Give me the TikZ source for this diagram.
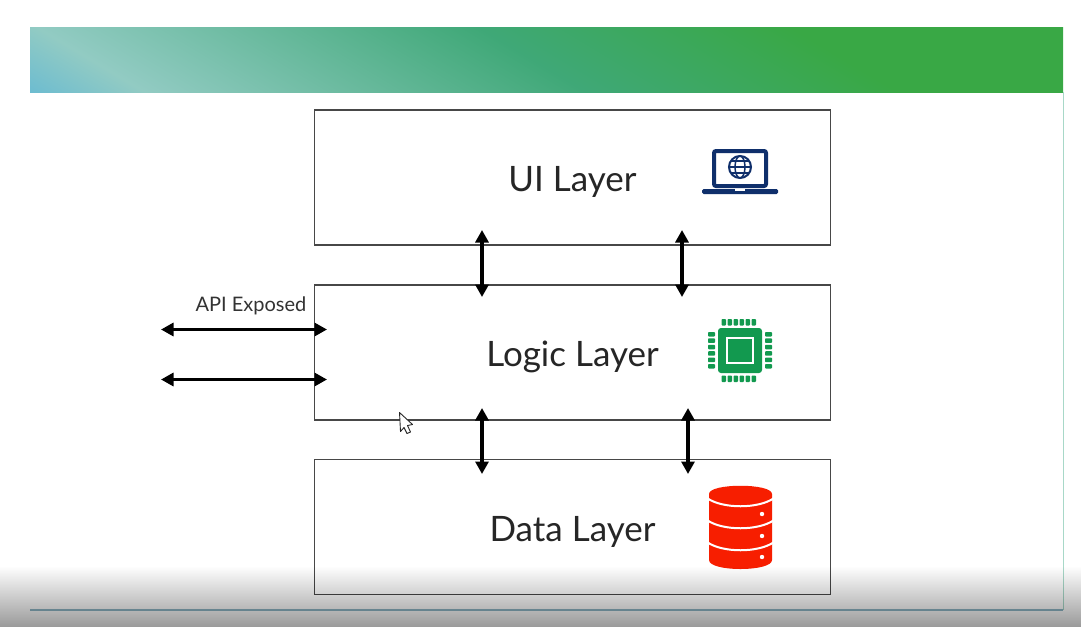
\documentclass[tikz,border=0pt]{standalone}
\usepackage{fontspec}
\setmainfont{Lato}
\usetikzlibrary{arrows.meta,fadings}
\definecolor{laptopblue}{HTML}{0F2F6B}
\definecolor{chipgreen}{HTML}{12994F}
\definecolor{dbred}{HTML}{F71E00}
\definecolor{barA}{HTML}{6DBCD0}
\definecolor{barB}{HTML}{92CBC3}
\definecolor{barC}{HTML}{3FA877}
\definecolor{barD}{HTML}{39A845}
\definecolor{footline}{HTML}{90B8C8}
\definecolor{sideline}{HTML}{A8D8C8}
\pgfdeclarehorizontalshading{barshade}{100bp}{color(0bp)=(barA); color(37.75bp)=(barA); color(40.2bp)=(barB); color(49.7bp)=(barC); color(56.4bp)=(barD); color(100bp)=(barD)}
\tikzfading[name=bottomfade, top color=transparent!100, middle color=transparent!88, bottom color=transparent!60]
\tikzset{
  layerbox/.style={draw=black!72, line width=1.2pt, minimum width=516pt, minimum height=135pt},
  layertext/.style={yshift=-4.5pt, font=\fontsize{35}{42}\selectfont, text=black!85},
  bothways/.style={draw=black, line width=3.8pt, {Triangle[width=13pt,length=12.5pt]}-{Triangle[width=13pt,length=12.5pt]}},
}
\begin{document}
\begin{tikzpicture}[x=1pt,y=-1pt]
\useasboundingbox (0,0) rectangle (1083,627);
\fill[white] (0,0) rectangle (1083,627);

\begin{scope}
\clip (30,27) rectangle (1063,92);
\path[shading=barshade, shading angle=59] (-53.5,-540.5) rectangle (1146.5,659.5);
\end{scope}
\path[draw=sideline,line width=1pt] (1063,92) -- (1063,610);
\path[draw=footline,line width=2pt] (30,610) -- (1063,610);

\node[layerbox] (ui) at (572.5,177.5) {};
\node[layerbox] (logic) at (572.5,352.5) {};
\node[layerbox] (data) at (572.5,527) {};
\node[layertext] (uitext) at (ui.center) {UI Layer};
\node[layertext] (logictext) at (logic.center) {Logic Layer};
\node[layertext] (datatext) at (data.center) {Data Layer};
\node[font=\fontsize{20}{24}\selectfont, text=black!80] (api) at (251,306) {API Exposed};

\coordinate (a1) at (482,230);
\coordinate (a2) at (482,297);
\coordinate (b1) at (682,230);
\coordinate (b2) at (682,297);
\coordinate (c1) at (482,408);
\coordinate (c2) at (482,474);
\coordinate (d1) at (688,408);
\coordinate (d2) at (688,474);
\coordinate (e1) at (161,329.5);
\coordinate (e2) at (327,329.5);
\coordinate (f1) at (161,379.5);
\coordinate (f2) at (327,379.5);
\path[bothways] (a1) -- (a2);
\path[bothways] (b1) -- (b2);
\path[bothways] (c1) -- (c2);
\path[bothways] (d1) -- (d2);
\path[bothways] (e1) -- (e2);
\path[bothways] (f1) -- (f2);

% laptop
\path[draw=laptopblue,line width=4pt,rounded corners=2pt] (714,151) rectangle (766,186);
\fill[laptopblue,rounded corners=1.5pt] (702,189) rectangle (778,194);
\fill[white] (735,189) rectangle (745,191);
\draw[laptopblue,line width=2pt] (740,167) circle (11);
\draw[laptopblue,line width=1.5pt] (740,167) ellipse (5 and 11);
\draw[laptopblue,line width=1.5pt] (729,167) -- (751,167);
\draw[laptopblue,line width=1.2pt] (731,161) -- (749,161);
\draw[laptopblue,line width=1.2pt] (731,173) -- (749,173);

% chip
\fill[chipgreen,rounded corners=3pt] (718,328) rectangle (762,373);
\draw[white,line width=2.5pt] (727,338) rectangle (753,363);
\foreach \p in {0,1,2,3,4,5}{
  \fill[chipgreen,rounded corners=0.8pt] (721.5+6*\p,319) rectangle (726+6*\p,325.5);
  \fill[chipgreen,rounded corners=0.8pt] (721.5+6*\p,375.5) rectangle (726+6*\p,382);
  \fill[chipgreen,rounded corners=0.8pt] (708,332+6.4*\p) rectangle (715,336.5+6.4*\p);
  \fill[chipgreen,rounded corners=0.8pt] (765,332+6.4*\p) rectangle (772,336.5+6.4*\p);
}

% database
\fill[dbred] (709,494) .. controls (709,483) and (772,483) .. (772,494) -- (772,560) .. controls (772,572) and (709,572) .. (709,560) -- cycle;
\foreach \h in {498,520,542}{
  \draw[white,line width=2pt] (707,\h) .. controls (722,\h+11) and (759,\h+11) .. (774,\h);
}
\foreach \h in {514,536,557}{
  \fill[white] (762,\h) circle (2.2);
}

% pointer
\path[draw=black!85,fill=white,line width=0.9pt,line join=round] (399.5,412.5) -- (400.5,431.5) -- (404,427.5) -- (407,433.5) -- (410.5,432) -- (407.5,425.5) -- (412.5,424.5) -- cycle;

\fill[black,path fading=bottomfade] (0,566) rectangle (1083,627);
\end{tikzpicture}
\end{document}
